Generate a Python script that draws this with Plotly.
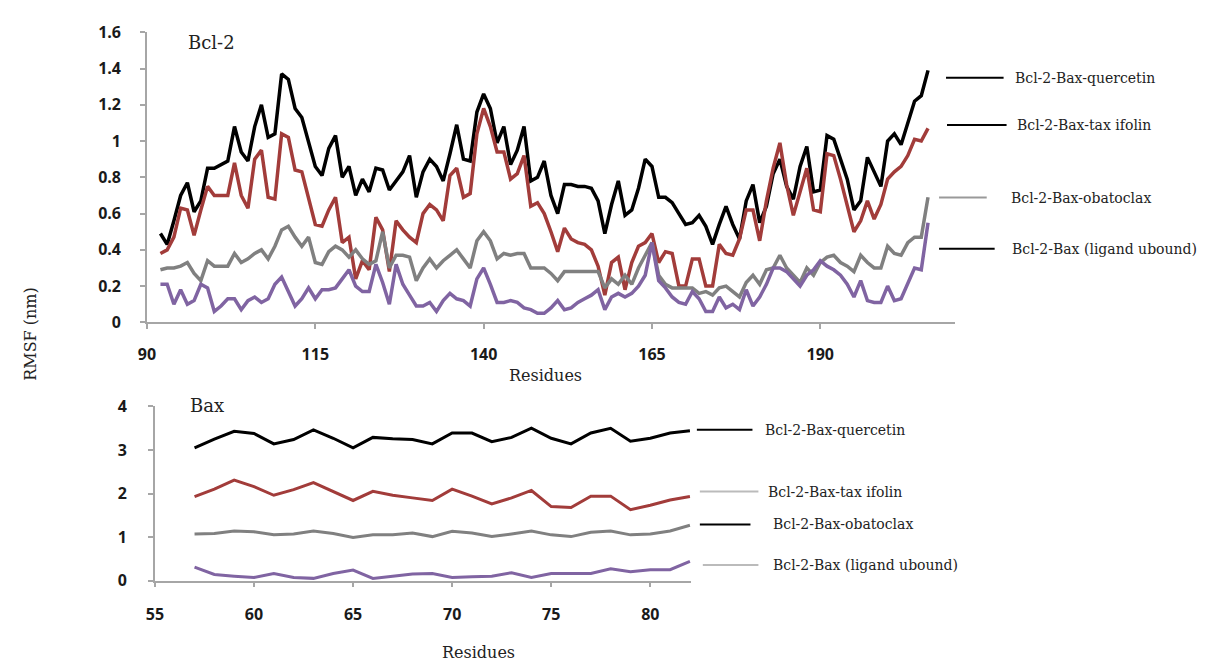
import plotly.graph_objects as go

# ---- Bcl-2 RMSF per residue (nm) ----
bcl2_residues = list(range(92, 207))

bcl2_quercetin = [
    0.49, 0.43, 0.56, 0.70, 0.77, 0.61, 0.67, 0.85, 0.85, 0.87, 0.89, 1.08, 0.94, 0.89, 1.08,
    1.20, 1.02, 1.04, 1.37, 1.34, 1.18, 1.13, 0.99, 0.86, 0.81, 0.96, 1.03, 0.80, 0.86, 0.70,
    0.79, 0.72, 0.85, 0.84, 0.73, 0.78, 0.83, 0.92, 0.69, 0.83, 0.90, 0.86, 0.78, 0.93, 1.09,
    0.90, 0.89, 1.16, 1.26, 1.18, 0.99, 1.08, 0.87, 0.95, 1.08, 0.78, 0.80, 0.89, 0.70,
    0.60, 0.76, 0.76, 0.75, 0.75, 0.74, 0.67, 0.49, 0.65, 0.78, 0.59, 0.62, 0.74, 0.90, 0.86,
    0.69, 0.69, 0.66, 0.60, 0.54, 0.55, 0.59, 0.53, 0.43, 0.54, 0.64, 0.54, 0.46, 0.67, 0.76,
    0.55, 0.64, 0.82, 0.90, 0.75, 0.68, 0.86, 0.97, 0.72, 0.73, 1.03, 1.01, 0.90, 0.79, 0.62,
    0.67, 0.91, 0.83, 0.75, 1.00, 1.04, 0.98, 1.10, 1.22, 1.25, 1.39,
]
bcl2_taxifolin = [
    0.38, 0.40, 0.47, 0.63, 0.62, 0.48, 0.62, 0.75, 0.70, 0.70, 0.70, 0.88, 0.70, 0.63, 0.90,
    0.95, 0.69, 0.68, 1.04, 1.02, 0.84, 0.83, 0.69, 0.54, 0.53, 0.62, 0.69, 0.44, 0.47, 0.24,
    0.34, 0.29, 0.58, 0.51, 0.28, 0.56, 0.51, 0.47, 0.44, 0.60, 0.65, 0.62, 0.56, 0.81, 0.85,
    0.69, 0.71, 1.04, 1.18, 1.08, 0.94, 0.94, 0.79, 0.82, 0.92, 0.64, 0.66, 0.60, 0.50,
    0.39, 0.52, 0.46, 0.44, 0.43, 0.40, 0.31, 0.15, 0.33, 0.36, 0.18, 0.33, 0.42, 0.44, 0.49,
    0.33, 0.39, 0.38, 0.20, 0.20, 0.35, 0.35, 0.20, 0.20, 0.43, 0.38, 0.37, 0.46, 0.62, 0.62,
    0.45, 0.67, 0.85, 0.99, 0.76, 0.59, 0.72, 0.85, 0.62, 0.61, 0.93, 0.92, 0.79, 0.65, 0.50,
    0.56, 0.67, 0.57, 0.65, 0.79, 0.83, 0.86, 0.92, 1.01, 1.00, 1.07,
]
bcl2_obatoclax = [
    0.29, 0.30, 0.30, 0.31, 0.33, 0.27, 0.23, 0.34, 0.31, 0.31, 0.31, 0.38, 0.33, 0.35, 0.38,
    0.40, 0.35, 0.42, 0.51, 0.53, 0.47, 0.42, 0.47, 0.33, 0.32, 0.39, 0.42, 0.40, 0.36, 0.40,
    0.35, 0.32, 0.34, 0.50, 0.30, 0.37, 0.37, 0.36, 0.23, 0.30, 0.35, 0.30, 0.34, 0.37, 0.40,
    0.35, 0.30, 0.45, 0.50, 0.45, 0.35, 0.38, 0.37, 0.38, 0.38, 0.30, 0.30, 0.30, 0.27,
    0.23, 0.28, 0.28, 0.28, 0.28, 0.28, 0.28, 0.19, 0.24, 0.21, 0.26, 0.21, 0.30, 0.37, 0.44,
    0.26, 0.21, 0.19, 0.19, 0.19, 0.19, 0.16, 0.17, 0.15, 0.19, 0.20, 0.17, 0.14, 0.22, 0.26,
    0.21, 0.29, 0.30, 0.37, 0.30, 0.26, 0.22, 0.30, 0.26, 0.33, 0.36, 0.37, 0.33, 0.31, 0.28,
    0.37, 0.33, 0.30, 0.30, 0.42, 0.38, 0.37, 0.44, 0.47, 0.47, 0.69,
]
bcl2_unbound = [
    0.21, 0.21, 0.10, 0.18, 0.10, 0.12, 0.21, 0.19, 0.06, 0.09, 0.13, 0.13, 0.07, 0.12, 0.14,
    0.11, 0.13, 0.21, 0.25, 0.17, 0.09, 0.13, 0.19, 0.13, 0.18, 0.18, 0.19, 0.24, 0.29, 0.20,
    0.17, 0.17, 0.32, 0.22, 0.10, 0.32, 0.21, 0.15, 0.09, 0.09, 0.11, 0.06, 0.12, 0.16, 0.13,
    0.12, 0.09, 0.24, 0.30, 0.21, 0.11, 0.11, 0.12, 0.11, 0.08, 0.07, 0.05, 0.05, 0.08,
    0.12, 0.07, 0.08, 0.11, 0.13, 0.15, 0.18, 0.07, 0.14, 0.16, 0.14, 0.16, 0.20, 0.26, 0.44,
    0.23, 0.19, 0.14, 0.11, 0.10, 0.17, 0.13, 0.06, 0.06, 0.14, 0.08, 0.10, 0.07, 0.18, 0.09,
    0.14, 0.21, 0.30, 0.30, 0.28, 0.24, 0.20, 0.26, 0.29, 0.34, 0.31, 0.29, 0.26, 0.21, 0.14,
    0.23, 0.12, 0.11, 0.11, 0.20, 0.12, 0.13, 0.21, 0.30, 0.29, 0.55,
]

# ---- Bax RMSF per residue (nm) ----
bax_residues = list(range(57, 83))
bax_quercetin = [3.05, 3.25, 3.43, 3.38, 3.14, 3.24, 3.46, 3.27, 3.05, 3.29, 3.26, 3.24, 3.14,
                 3.39, 3.39, 3.19, 3.29, 3.50, 3.27, 3.14, 3.39, 3.50, 3.20, 3.27, 3.39, 3.44]
bax_taxifolin = [1.93, 2.10, 2.31, 2.16, 1.96, 2.09, 2.25, 2.05, 1.84, 2.05, 1.96, 1.90, 1.84,
                 2.10, 1.94, 1.76, 1.90, 2.07, 1.70, 1.68, 1.94, 1.94, 1.63, 1.73, 1.85, 1.93]
bax_obatoclax = [1.07, 1.08, 1.14, 1.12, 1.05, 1.07, 1.14, 1.08, 0.99, 1.05, 1.05, 1.09, 1.01,
                 1.13, 1.09, 1.01, 1.07, 1.14, 1.05, 1.01, 1.11, 1.14, 1.05, 1.07, 1.14, 1.27]
bax_unbound = [0.31, 0.14, 0.10, 0.07, 0.16, 0.07, 0.05, 0.16, 0.24, 0.05, 0.10, 0.15, 0.16,
               0.07, 0.09, 0.10, 0.18, 0.07, 0.16, 0.16, 0.16, 0.27, 0.20, 0.25, 0.25, 0.44]

series_names = ["Bcl-2-Bax-quercetin", "Bcl-2-Bax-tax ifolin",
                "Bcl-2-Bax-obatoclax", "Bcl-2-Bax (ligand ubound)"]
bcl2_ticks = [90, 115, 140, 165, 190]
bax_ticks = [55, 60, 65, 70, 75, 80]

colors = ["#000000", "#a23c3a", "#808080", "#8064a2"]

W, H = 1217, 666
def px(x):
    return x / W
def py(y):
    return 1 - y / H

fig = go.Figure()

for vals, name, c in zip([bcl2_quercetin, bcl2_taxifolin, bcl2_obatoclax, bcl2_unbound],
                         series_names, colors):
    fig.add_trace(go.Scatter(x=bcl2_residues, y=vals, name=name, mode="lines",
                             line=dict(color=c, width=3.5), xaxis="x", yaxis="y",
                             showlegend=False))
for vals, name, c in zip([bax_quercetin, bax_taxifolin, bax_obatoclax, bax_unbound],
                         series_names, colors):
    fig.add_trace(go.Scatter(x=bax_residues, y=vals, name=name, mode="lines",
                             line=dict(color=c, width=3), xaxis="x2", yaxis="y2",
                             showlegend=False))

tick_font = dict(family="Open Sans", size=16, color="#1a1a1a", weight="bold")
axis_common = dict(showline=True, linecolor="#a6a6a6", linewidth=1.5, ticks="outside",
                   ticklen=5, tickcolor="#a6a6a6", tickwidth=1.5, showgrid=False,
                   zeroline=False, tickfont=tick_font)

fig.update_layout(
    width=W, height=H, margin=dict(l=0, r=0, t=0, b=0),
    paper_bgcolor="white", plot_bgcolor="white",
    xaxis=dict(domain=[px(139), px(953)], range=[90, 210], tickvals=bcl2_ticks,
               anchor="y", ticklabelstandoff=12, **axis_common),
    yaxis=dict(domain=[py(322), py(22)], range=[0, 1.6], tickvals=[0, 0.2, 0.4, 0.6, 0.8, 1, 1.2, 1.4, 1.6],
               ticktext=["0", "0.2", "0.4", "0.6", "0.8", "1", "1.2", "1.4", "1.6"],
               anchor="x", ticklabelstandoff=16, **axis_common),
    xaxis2=dict(domain=[px(147), px(687)], range=[55, 82.05], tickvals=bax_ticks,
                anchor="y2", ticklabelstandoff=14, **axis_common),
    yaxis2=dict(domain=[py(589), py(409)], range=[0, 4], tickvals=[0, 1, 2, 3, 4],
                anchor="x2", ticklabelstandoff=18, **axis_common),
)

serif = "DejaVu Serif"
annotations = [
    dict(text="Bcl-2", x=px(178), y=py(33), xanchor="left", yanchor="middle",
         font=dict(family=serif, size=18, color="#222")),
    dict(text="Bax", x=px(180), y=py(408), xanchor="left", yanchor="middle",
         font=dict(family=serif, size=18, color="#222")),
    dict(text="Residues", x=px(541), y=py(377), xanchor="center", yanchor="middle",
         font=dict(family=serif, size=16, color="#222")),
    dict(text="Residues", x=px(473), y=py(652), xanchor="center", yanchor="top",
         font=dict(family=serif, size=16, color="#222")),
    dict(text="RMSF (nm)", x=px(22), y=py(334), xanchor="center", yanchor="middle",
         textangle=-90, font=dict(family=serif, size=16, color="#222")),
]

# Line-segment labels beside each panel
bcl2_labels = [  # (x0, x1, y, text_x, line colour)
    (944, 1002, 69, 1011, "#000000"),
    (945, 1005, 118, 1013, "#000000"),
    (937, 985, 193, 1007, "#999999"),
    (937, 993, 246, 1008, "#000000"),
]
bax_labels = [
    (693, 749, 433, 760, "#000000"),
    (696, 755, 497, 763, "#bbbbbb"),
    (696, 747, 531, 768, "#000000"),
    (699, 755, 573, 768, "#bbbbbb"),
]
shapes = []
for group in (bcl2_labels, bax_labels):
    for (x0, x1, yy, tx, lc), name in zip(group, series_names):
        shapes.append(dict(type="line", xref="paper", yref="paper",
                           x0=px(x0), x1=px(x1), y0=py(yy), y1=py(yy),
                           line=dict(color=lc, width=2)))
        annotations.append(dict(text=name, x=px(tx), y=py(yy), xanchor="left",
                                yanchor="middle",
                                font=dict(family=serif, size=14, color="#222")))

for a in annotations:
    a.update(xref="paper", yref="paper", showarrow=False)

fig.update_layout(annotations=annotations, shapes=shapes)

fig.write_html("out.html")
